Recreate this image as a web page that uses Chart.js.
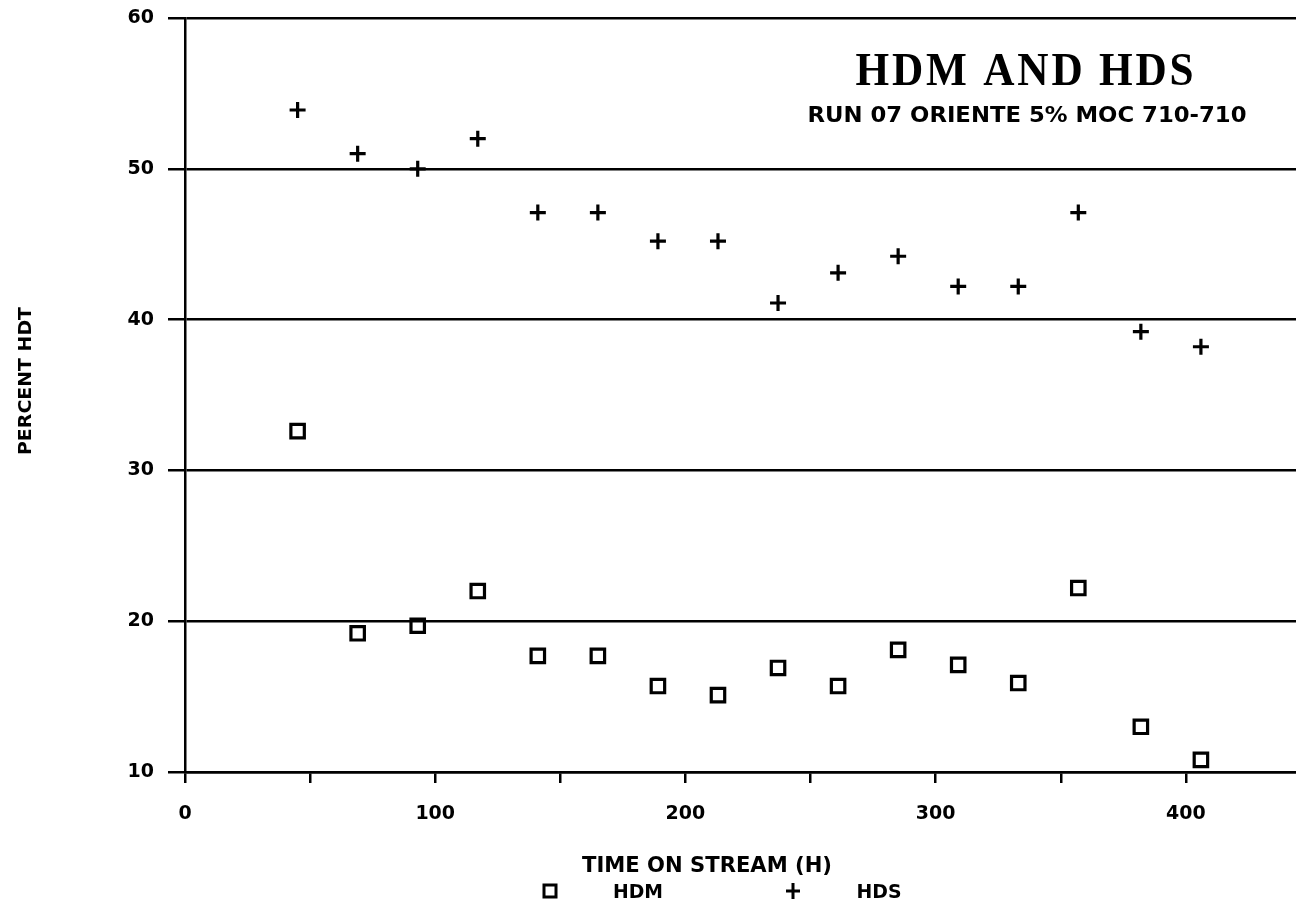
<!DOCTYPE html>
<html>
<head>
<meta charset="utf-8">
<script src="https://cdn.jsdelivr.net/npm/chart.js"></script>
<style>
  html, body { margin: 0; padding: 0; background: #fff; }
  #wrap { width: 1296px; height: 902px; }
</style>
</head>
<body>
<div id="wrap"><canvas id="hdt" width="1296" height="902"></canvas></div>
<script>
// --- data: time on stream (h) and percent removal ---
const hours = [45, 69, 93, 117, 141, 165, 189, 213, 237, 261, 285, 309, 333, 357, 382, 406];
const hdm = [32.6, 19.2, 19.7, 22.0, 17.7, 17.7, 15.7, 15.1, 16.9, 15.7, 18.1, 17.1, 15.9, 22.2, 13.0, 10.8];
const hds = [53.9, 51.0, 50.0, 52.0, 47.1, 47.1, 45.2, 45.2, 41.1, 43.1, 44.2, 42.2, 42.2, 47.1, 39.2, 38.2];
const xTicks = [0, 50, 100, 150, 200, 250, 300, 350, 400];
const yTicks = [10, 20, 30, 40, 50, 60];

const INK = '#000';
const SANS = '"DejaVu Sans", sans-serif';

// draw text squeezed/stretched to a given width
function fitText(ctx, text, cx, baseline, width) {
    const w = ctx.measureText(text).width;
    ctx.save();
    ctx.translate(cx, baseline);
    ctx.scale(width / w, 1);
    ctx.textAlign = 'center';
    ctx.textBaseline = 'alphabetic';
    ctx.fillText(text, 0, 0);
    ctx.restore();
}

// --- titles, axis names and the key row under the x axis ---
const labelsPlugin = {
    id: 'labels',
    afterDraw(chart) {
        const ctx = chart.ctx;
        ctx.save();
        ctx.fillStyle = INK;
        ctx.strokeStyle = INK;

        ctx.font = 'bold 46px "Liberation Serif", serif';
        ctx.letterSpacing = '3px';
        fitText(ctx, 'HDM AND HDS', 1026, 85, 341);
        ctx.letterSpacing = '0px';

        ctx.font = 'bold 22px ' + SANS;
        fitText(ctx, 'RUN 07 ORIENTE 5% MOC 710-710', 1027, 122, 439);

        ctx.font = 'bold 22px ' + SANS;
        fitText(ctx, 'TIME ON STREAM (H)', 707, 872, 250);

        ctx.save();
        ctx.translate(31, 381);
        ctx.rotate(-Math.PI / 2);
        ctx.font = 'bold 17px ' + SANS;
        fitText(ctx, 'PERCENT HDT', 0, 0, 148);
        ctx.restore();

        // key
        ctx.lineWidth = 3;
        ctx.strokeRect(544, 885, 12, 12);
        ctx.beginPath();
        ctx.moveTo(786, 891); ctx.lineTo(800, 891);
        ctx.moveTo(793, 883); ctx.lineTo(793, 899);
        ctx.stroke();
        ctx.font = 'bold 19px ' + SANS;
        fitText(ctx, 'HDM', 638, 898, 50);
        fitText(ctx, 'HDS', 879, 898, 45);
        ctx.restore();
    }
};

new Chart(document.getElementById('hdt'), {
    type: 'scatter',
    data: {
        datasets: [
            {
                label: 'HDM',
                data: hours.map((h, i) => ({ x: h, y: hdm[i] })),
                pointStyle: 'rect',
                pointRadius: 9.5,
                borderWidth: 3.2,
                borderColor: INK,
                backgroundColor: 'rgba(0,0,0,0)'
            },
            {
                label: 'HDS',
                data: hours.map((h, i) => ({ x: h, y: hds[i] })),
                pointStyle: 'cross',
                pointRadius: 8,
                borderWidth: 3.2,
                borderColor: INK,
                backgroundColor: INK
            }
        ]
    },
    options: {
        responsive: false,
        animation: false,
        layout: { autoPadding: false, padding: { top: 18, left: 0, right: 0, bottom: 0 } },
        plugins: { legend: { display: false }, tooltip: { enabled: false } },
        scales: {
            x: {
                type: 'linear',
                min: 0,
                max: 444,
                afterBuildTicks: s => { s.ticks = xTicks.map(v => ({ value: v })); },
                afterFit: s => { s.height = 130; s.paddingLeft = 0; s.paddingRight = 0; },
                border: { display: true, color: INK, width: 2.5 },
                grid: { drawOnChartArea: false, drawTicks: true, tickLength: 11, color: INK, lineWidth: 2.5 },
                ticks: {
                    padding: 20,
                    color: INK,
                    font: { family: SANS, size: 19, weight: 'bold' },
                    maxRotation: 0,
                    callback: v => (v % 100 === 0 ? String(v) : '')
                }
            },
            y: {
                type: 'linear',
                min: 10,
                max: 60,
                afterBuildTicks: s => { s.ticks = yTicks.map(v => ({ value: v })); },
                afterFit: s => { s.width = 185; s.paddingTop = 0; s.paddingBottom = 0; },
                border: { display: true, color: INK, width: 2.5 },
                grid: { drawTicks: true, tickLength: 17, color: INK, lineWidth: 2.5 },
                ticks: {
                    padding: 14,
                    color: INK,
                    font: { family: SANS, size: 19, weight: 'bold' }
                }
            }
        }
    },
    plugins: [labelsPlugin]
});
</script>
</body>
</html>
